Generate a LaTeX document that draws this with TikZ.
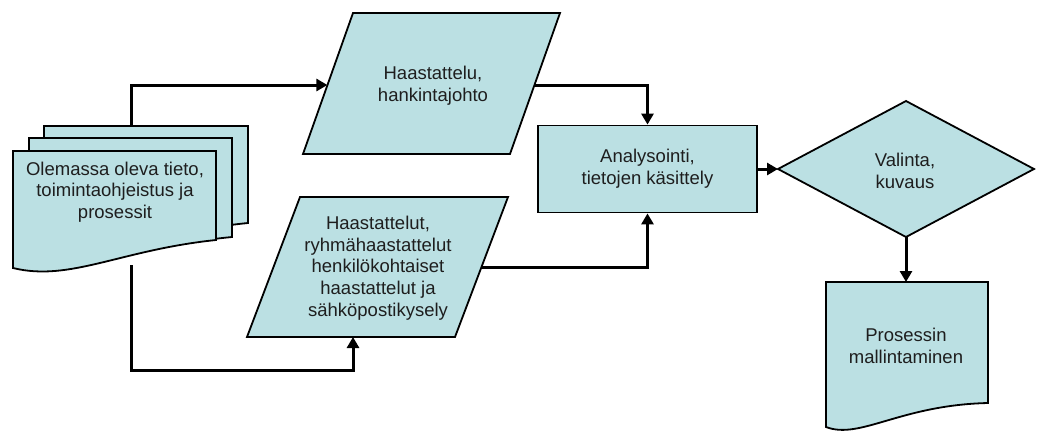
\documentclass[tikz,border=0pt]{standalone}
\usepackage{fontspec}
\setmainfont{Liberation Sans}
\usetikzlibrary{arrows.meta}
\definecolor{boxfill}{RGB}{187,224,227}
\definecolor{inktext}{RGB}{30,30,30}
\begin{document}
\begin{tikzpicture}[x=1pt,y=-1pt,
  shapeline/.style={draw=black, line width=1.8pt, fill=boxfill, line join=miter},
  flow/.style={draw=black, line width=3pt, -{Triangle[length=11pt,width=12pt]}},
  txt/.style={font=\fontsize{18.5}{21.7}\selectfont, text=inktext, align=center, inner sep=0pt}]
\useasboundingbox (0,0) rectangle (1037,432);

% stack of three documents
\path[shapeline] (44,126) -- (248,126) -- (248,223) .. controls (160,232) and (110,252) .. (44,240) -- cycle;
\path[shapeline] (29,138) -- (232,138) -- (232,237) .. controls (140,246) and (90,268) .. (29,255) -- cycle;
\path[shapeline] (13,151) -- (216,151) -- (216,240) .. controls (120,250) and (70,282) .. (13,268) -- cycle;
\node[txt] (stackTxt) at (115,192) {Olemassa oleva tieto,\\toimintaohjeistus ja\\prosessit};
\coordinate (stackTop) at (131,126);
\coordinate (stackBot) at (131,265);
\coordinate (lowTurn) at (131,370);

% upper input parallelogram
\path[shapeline] (353,13) -- (560,13) -- (510,154) -- (303,154) -- cycle;
\node[txt] (p1Txt) at (433,86) {Haastattelu,\\hankintajohto};
\coordinate (p1W) at (327.4,85);
\coordinate (p1E) at (534.4,85);

% lower input parallelogram
\path[shapeline] (300,197) -- (508,197) -- (455,337) -- (247,337) -- cycle;
\node[txt] (p2Txt) at (378,268) {Haastattelut,\\ryhmähaastattelut\\henkilökohtaiset\\haastattelut ja\\sähköpostikysely};
\coordinate (p2E) at (481.5,267);
\coordinate (p2S) at (353,337);

% processing step
\node[shapeline, rectangle, minimum width=219pt, minimum height=87pt, txt] (ana) at (647.5,169) {Analysointi,\\tietojen käsittely};

% decision
\coordinate (dW) at (778,169);
\coordinate (dN) at (906,101);
\coordinate (dE) at (1034,169);
\coordinate (dS) at (906,237);
\path[shapeline] (dW) -- (dN) -- (dE) -- (dS) -- cycle;
\node[txt] (diaTxt) at (905,171) {Valinta,\\kuvaus};

% output document
\path[shapeline] (826,282) -- (988,282) -- (988,403) .. controls (900,405) and (860,440) .. (826,427) -- cycle;
\node[txt] (modelTxt) at (906,346) {Prosessin\\mallintaminen};
\coordinate (modelTop) at (906,282);

% connectors
\draw[flow] (stackTop) |- (p1W);
\draw[flow] (stackBot) -- (lowTurn) -| (p2S);
\draw[flow] (p1E) -| (ana.north);
\draw[flow] (p2E) -| (ana.south);
\draw[flow] (ana.east) -- (dW);
\draw[flow] (dS) -- (modelTop);
\end{tikzpicture}
\end{document}
